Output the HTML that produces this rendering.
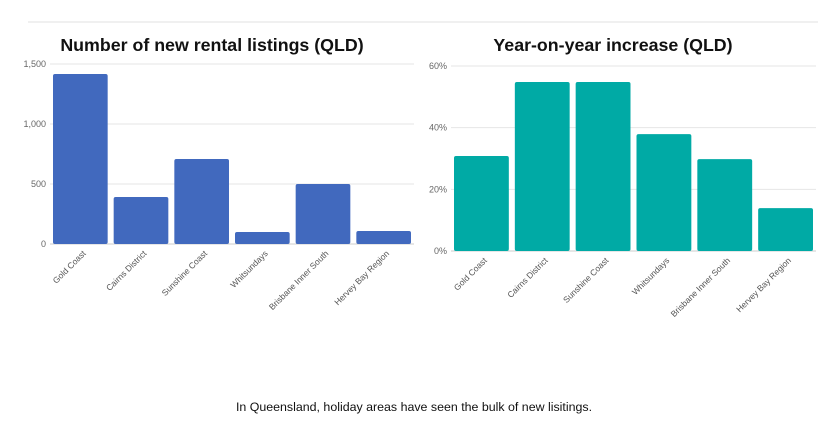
<!DOCTYPE html>
<html><head><meta charset="utf-8"><style>
body{margin:0;width:835px;height:426px;background:#fff;overflow:hidden;font-family:"Liberation Sans",sans-serif}
svg{position:absolute;left:0;top:0}
</style></head><body>
<svg width="835" height="426">
<line x1="28" y1="22" x2="818" y2="22" stroke="#f0f0f0" stroke-width="2"/>
<text x="212" y="51" text-anchor="middle" font-size="17.8" font-weight="bold" fill="#111">Number of new rental listings (QLD)</text>
<text x="613" y="51" text-anchor="middle" font-size="17.8" font-weight="bold" fill="#111">Year-on-year increase (QLD)</text>
<g id="left"></g><g id="right"></g>
<text x="414" y="411" text-anchor="middle" font-size="12.4" fill="#111">In Queensland, holiday areas have seen the bulk of new lisitings.</text>
</svg>
<script>
const categories=["Gold Coast","Cairns District","Sunshine Coast","Whitsundays","Brisbane Inner South","Hervey Bay Region"];
const listings=[1417,392,708,100,500,108];
const yoy=[30.8,54.8,54.8,37.9,29.8,13.9];
const leftTicks=[0,500,1000,1500];
const leftTickLabels=["0","500","1,000","1,500"];
const rightTicks=[0,20,40,60];
const rightTickLabels=["0%","20%","40%","60%"];
const NS="http://www.w3.org/2000/svg";
function mk(p,t,a){const e=document.createElementNS(NS,t);for(const k in a)e.setAttribute(k,a[k]);p.appendChild(e);return e;}
function chart(g,vals,ticks,labels,max,x0,x1,yTop,yBot,color,prefix){
  const y=v=>yBot-(v/max)*(yBot-yTop);
  const step=(x1-x0)/categories.length;
  ticks.forEach((t,i)=>{
    const l=mk(g,'line',{x1:x0,x2:x1,y1:y(t),y2:y(t),stroke:i==0?'#ccc':'#e6e6e6','stroke-width':1});
    
    
    const tx=mk(g,'text',{x:x0-4,y:y(t)+3,'text-anchor':'end','font-size':9,fill:'#666'});
    tx.textContent=labels[i];
    
    
  });
  vals.forEach((v,i)=>{
    const bx=x0+i*step+3, bw=step-6;
    const r=mk(g,'rect',{x:bx,y:y(v),width:bw,height:yBot-y(v),fill:color,rx:2});
    
    
    const cx=bx+bw/2;
    const t=mk(g,'text',{x:cx+6,y:yBot+10,'text-anchor':'end','font-size':8.5,fill:'#555',transform:`rotate(-45 ${cx+6} ${yBot+10})`});
    t.textContent=categories[i];
    
    
  });
}
chart(document.getElementById('left'),listings,leftTicks,leftTickLabels,1500,50,414,64,244,'#4169be','left');
chart(document.getElementById('right'),yoy,rightTicks,rightTickLabels,60,451,816,66,251,'#00aaa5','right');
</script>
</body></html>
